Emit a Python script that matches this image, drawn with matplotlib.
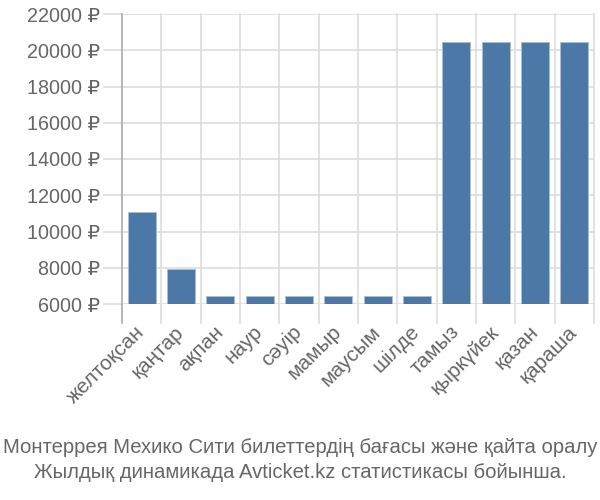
import matplotlib
matplotlib.use('Agg')
import matplotlib.pyplot as plt
import numpy as np

# Month labels (Kazakh) and average ticket prices in roubles
months = ['желтоқсан', 'қаңтар', 'ақпан', 'наур', 'сәуір', 'мамыр',
          'маусым', 'шілде', 'тамыз', 'қыркүйек', 'қазан', 'қараша']
prices = [11080, 7950, 6460, 6460, 6460, 6460, 6460, 6460, 20480, 20480, 20480, 20480]
yticks = [6000, 8000, 10000, 12000, 14000, 16000, 18000, 20000, 22000]
caption = ['Монтеррея Мехико Сити билеттердің бағасы және қайта оралу',
           'Жылдық динамикада Avticket.kz статистикасы бойынша.']

plt.rcParams['font.family'] = ['Liberation Sans', 'DejaVu Sans']
grey = '#666666'
grid = '#dddddd'

fig = plt.figure(figsize=(6, 5), dpi=100)
ax = fig.add_axes([122 / 600, 1 - 304 / 500, 472 / 600, 290 / 500])

x = np.arange(len(months))
ax.bar(x, prices, width=0.72, color='#4c78a8', edgecolor='#a9bfd6',
       linewidth=0.6, zorder=3)

ax.set_xlim(-0.5, len(months) - 0.5)
ax.set_ylim(6000, 22000)

# y axis, gridlines run out past the spine like ticks
ax.set_yticks(yticks)
ax.set_yticklabels([f'{v} ₽' for v in yticks], fontsize=14.2, color=grey)
ax.tick_params(axis='y', length=14, width=1.2, color=grid, pad=1.5)
ax.grid(axis='y', color=grid, linewidth=1.2, zorder=1)

# x axis: lines at category boundaries, labels at centres
ax.set_xticks(x)
ax.set_xticklabels(months, rotation=45, ha='right', va='center',
                   rotation_mode='anchor', fontsize=15, color=grey)
ax.tick_params(axis='x', length=0, pad=18)
for b in np.arange(0.5, len(months), 1.0):
    ax.axvline(b, color=grid, linewidth=1.2, zorder=1, clip_on=False,
               ymin=-0.065, ymax=1)
ax.axvline(-0.5, color='#aaaaaa', linewidth=1.2, zorder=4, clip_on=False,
           ymin=-0.065, ymax=1)

for s in ax.spines.values():
    s.set_visible(False)

fig.text(0.5, 1 - 447 / 500, caption[0], ha='center', va='center',
         fontsize=14.6, color=grey)
fig.text(0.5, 1 - 473 / 500, caption[1], ha='center', va='center',
         fontsize=14.6, color=grey)

fig.savefig('out.png', dpi=100)
